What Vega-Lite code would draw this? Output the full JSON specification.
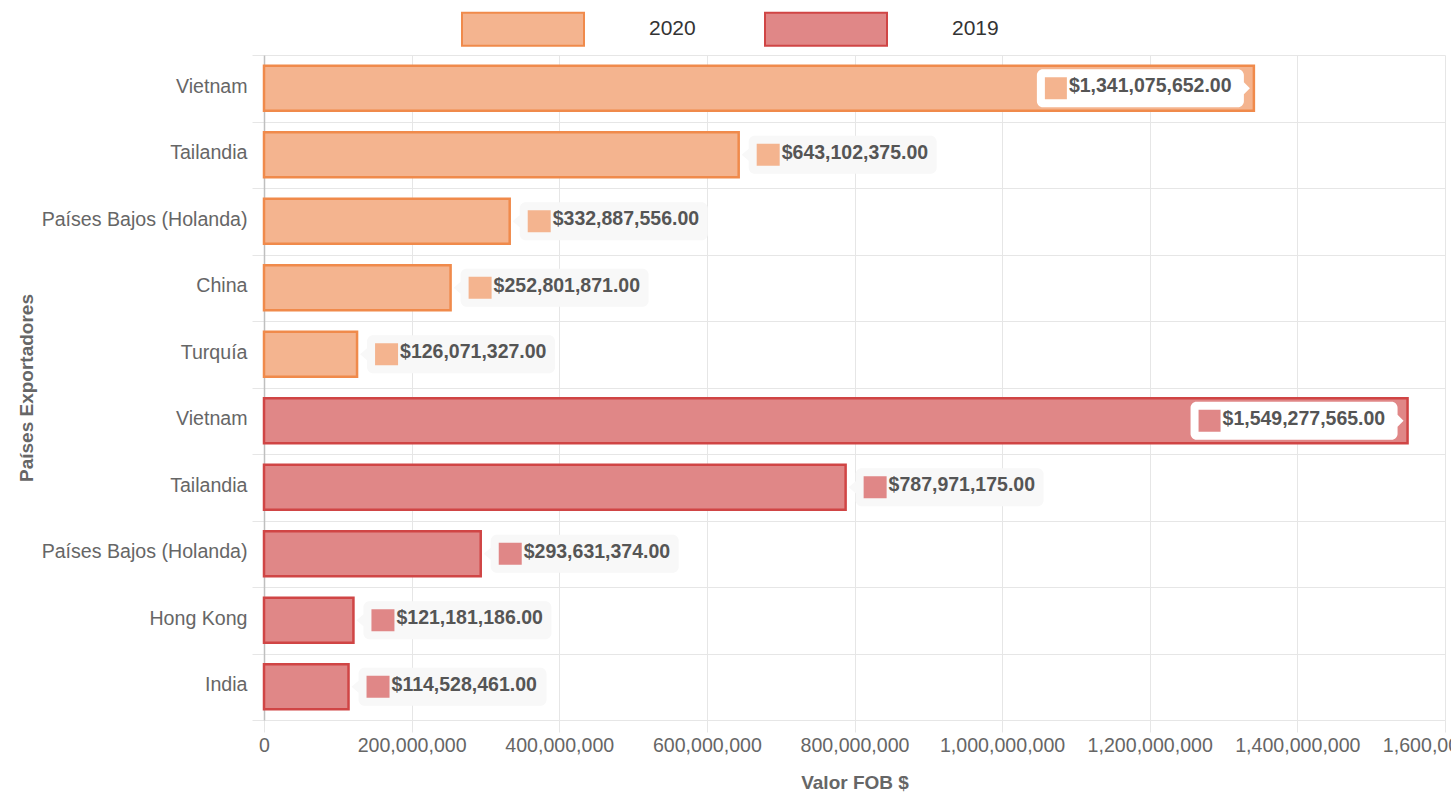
{
  "$schema": "https://vega.github.io/schema/vega-lite/v6.json",
  "width": 1181,
  "height": 665,
  "autosize": {"type": "none"},
  "padding": {"left": 264, "top": 55, "right": 6, "bottom": 75},
  "config": {"view": {"stroke": null}, "font": "Liberation Sans"},
  "data": {
    "values": [
      {"key": "2020|Vietnam", "anio": "2020", "valor": 1341075652},
      {"key": "2020|Tailandia", "anio": "2020", "valor": 643102375},
      {"key": "2020|Países Bajos (Holanda)", "anio": "2020", "valor": 332887556},
      {"key": "2020|China", "anio": "2020", "valor": 252801871},
      {"key": "2020|Turquía", "anio": "2020", "valor": 126071327},
      {"key": "2019|Vietnam", "anio": "2019", "valor": 1549277565},
      {"key": "2019|Tailandia", "anio": "2019", "valor": 787971175},
      {"key": "2019|Países Bajos (Holanda)", "anio": "2019", "valor": 293631374},
      {"key": "2019|Hong Kong", "anio": "2019", "valor": 121181186},
      {"key": "2019|India", "anio": "2019", "valor": 114528461}
    ]
  },
  "encoding": {
    "y": {
      "field": "key", "type": "nominal", "sort": null,
      "scale": {"paddingInner": 0, "paddingOuter": 0},
      "axis": {
        "title": "Países Exportadores",
        "labelExpr": "split(datum.label, '|')[1]",
        "tickBand": "extent", "grid": true, "gridColor": "#e6e6e6",
        "tickColor": "#e6e6e6", "tickSize": 12, "labelPadding": 5, "labelOffset": -2,
        "labelFontSize": 19.6, "labelColor": "#666666", "labelLimit": 400,
        "domainColor": "#bfbfbf", "domainWidth": 1.5,
        "titleFontSize": 19, "titleColor": "#666666", "titleFontWeight": "bold", "titlePadding": 28
      }
    },
    "x": {
      "field": "valor", "type": "quantitative",
      "scale": {"domain": [0, 1600000000], "nice": false},
      "axis": {
        "title": "Valor FOB $",
        "values": [0, 200000000, 400000000, 600000000, 800000000, 1000000000, 1200000000, 1400000000, 1600000000],
        "format": ",d", "grid": true, "gridColor": "#e6e6e6", "tickColor": "#e6e6e6",
        "tickSize": 12, "labelPadding": 4, "labelFontSize": 19.6, "labelColor": "#666666",
        "labelFlush": false, "labelOverlap": false, "domainColor": "#e6e6e6",
        "titleFontSize": 19, "titleColor": "#666666", "titleFontWeight": "bold", "titlePadding": 19
      }
    }
  },
  "layer": [
    {
      "mark": {"type": "bar", "height": {"band": 0.68}, "strokeWidth": 2.5},
      "encoding": {
        "fill": {
          "field": "anio", "type": "nominal",
          "scale": {"domain": ["2020", "2019"], "range": ["#f4b48f", "#e08787"]},
          "legend": {
            "orient": "none", "legendX": 197, "legendY": -88, "direction": "horizontal",
            "title": null, "padding": 0,
            "symbolType": "M-1,-0.27H1V0.27H-1Z", "symbolSize": 14884, "symbolStrokeWidth": 2,
            "labelFontSize": 21, "labelColor": "#333333", "labelOffset": 64, "columnPadding": 65
          }
        },
        "stroke": {
          "field": "anio", "type": "nominal",
          "scale": {"domain": ["2020", "2019"], "range": ["#f08a4b", "#d04545"]},
          "legend": {
            "orient": "none", "legendX": 197, "legendY": -88, "direction": "horizontal",
            "title": null, "padding": 0,
            "symbolType": "M-1,-0.27H1V0.27H-1Z", "symbolSize": 14884, "symbolStrokeWidth": 2,
            "labelFontSize": 21, "labelColor": "#333333", "labelOffset": 64, "columnPadding": 65
          }
        }
      }
    },
    {
      "transform": [{"filter": "datum.valor < 1000000000"}],
      "layer": [
        {
          "mark": {"type": "point", "filled": true, "size": 4, "opacity": 1, "fill": "#f8f8f8", "strokeWidth": 0,
            "shape": "M3,0L10,-6L10,-13A6,6 0 0 1 16,-19L192,-19A6,6 0 0 1 198,-13L198,13A6,6 0 0 1 192,19L16,19A6,6 0 0 1 10,13L10,6Z"}
        },
        {
          "mark": {"type": "point", "filled": true, "size": 4, "opacity": 1, "strokeWidth": 0,
            "shape": "M18,-11H41V11H18Z"},
          "encoding": {"fill": {"field": "anio", "type": "nominal"}}
        },
        {
          "mark": {"type": "text", "align": "left", "baseline": "middle", "dx": 43, "dy": -2, "fontSize": 19.5, "fontWeight": "bold", "fill": "#555555"},
          "encoding": {"text": {"field": "valor", "type": "quantitative", "format": "$,.2f"}}
        }
      ]
    },
    {
      "transform": [{"filter": "datum.valor >= 1000000000"}],
      "layer": [
        {
          "mark": {"type": "point", "filled": true, "size": 4, "opacity": 1, "fill": "#ffffff", "strokeWidth": 0,
            "shape": "M-4,0L-10,-6L-10,-13A6,6 0 0 0 -16,-19L-211,-19A6,6 0 0 0 -217,-13L-217,13A6,6 0 0 0 -211,19L-16,19A6,6 0 0 0 -10,13L-10,6Z"}
        },
        {
          "mark": {"type": "point", "filled": true, "size": 4, "opacity": 1, "strokeWidth": 0,
            "shape": "M-209,-11H-187V11H-209Z"},
          "encoding": {"fill": {"field": "anio", "type": "nominal"}}
        },
        {
          "mark": {"type": "text", "align": "left", "baseline": "middle", "dx": -185, "dy": -2, "fontSize": 19.5, "fontWeight": "bold", "fill": "#555555"},
          "encoding": {"text": {"field": "valor", "type": "quantitative", "format": "$,.2f"}}
        }
      ]
    }
  ]
}
